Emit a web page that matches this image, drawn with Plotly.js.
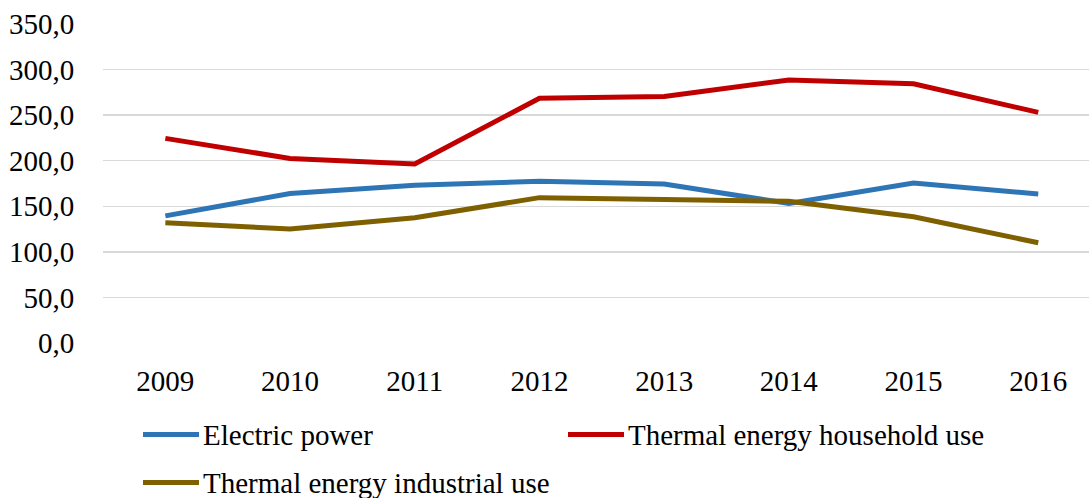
<!DOCTYPE html>
<html><head><meta charset="utf-8">
<script src="https://cdn.plot.ly/plotly-3.0.1.min.js"></script>
<style>html,body{margin:0;padding:0;background:#fff;}#chart{width:1089px;height:498px;}</style>
</head><body><div id="chart"></div>
<script>
const years = ['2009','2010','2011','2012','2013','2014','2015','2016'];
const electricPower = [139.5, 164.0, 173.0, 177.5, 174.5, 153.0, 175.5, 163.5];
const thermalHousehold = [224.5, 202.5, 196.5, 268.5, 270.5, 288.5, 284.5, 253.0];
const thermalIndustrial = [132.0, 125.0, 137.5, 159.5, 157.5, 155.5, 138.5, 110.0];
const seriesNames = ['Electric power', 'Thermal energy household use', 'Thermal energy industrial use'];
const seriesColors = ['#2E75B6', '#C00000', '#7F6000'];
const yTicks = [0, 50, 100, 150, 200, 250, 300, 350];

const FONT = 'Liberation Serif';
const FS = 29;
const W = 1089, H = 498, ML = 103, MT = 24, MB = 155;
const PW = W - ML, PH = H - MT - MB;
const px2x = p => (p - ML) / PW;
const px2y = p => (H - MB - p) / PH;

const values = [electricPower, thermalHousehold, thermalIndustrial];
const traces = values.map((v, i) => ({
  x: years, y: v, type: 'scatter', mode: 'lines', name: seriesNames[i],
  line: {color: seriesColors[i], width: 5}, showlegend: false
}));

// manual legend layout (pixel positions of swatch start)
const legendPos = [[143, 434.5], [568, 434.5], [143, 482.5]];
const shapes = legendPos.map((p, i) => ({
  type: 'line', xref: 'paper', yref: 'paper',
  x0: px2x(p[0]), x1: px2x(p[0] + 56), y0: px2y(p[1]), y1: px2y(p[1]),
  line: {color: seriesColors[i], width: 5}
}));
const annotations = legendPos.map((p, i) => ({
  xref: 'paper', yref: 'paper', x: px2x(p[0] + 58), y: px2y(p[1]),
  xanchor: 'left', yanchor: 'middle', showarrow: false, text: seriesNames[i],
  font: {family: FONT, size: FS, color: '#000000'}
}));

const layout = {
  width: W, height: H,
  margin: {l: ML, r: 0, t: MT, b: MB, pad: 0},
  paper_bgcolor: '#fff', plot_bgcolor: '#fff',
  separators: ', ',
  xaxis: {
    type: 'category', range: [-0.5, -0.5 + PW / 124.7],
    showgrid: false, zeroline: false, showline: false,
    ticks: 'outside', ticklen: 12, tickcolor: 'rgba(0,0,0,0)',
    tickfont: {family: FONT, size: FS, color: '#000000'}
  },
  yaxis: {
    range: [0, 350], tickvals: yTicks, tickformat: '.1f',
    showgrid: true, gridcolor: '#D9D9D9', gridwidth: 1.5,
    zeroline: false, showline: false,
    ticks: 'outside', ticklen: 22, tickcolor: 'rgba(0,0,0,0)',
    tickfont: {family: FONT, size: FS, color: '#000000'}
  },
  shapes: shapes, annotations: annotations, showlegend: false
};
Plotly.newPlot('chart', traces, layout, {staticPlot: true, displayModeBar: false});
</script></body></html>
